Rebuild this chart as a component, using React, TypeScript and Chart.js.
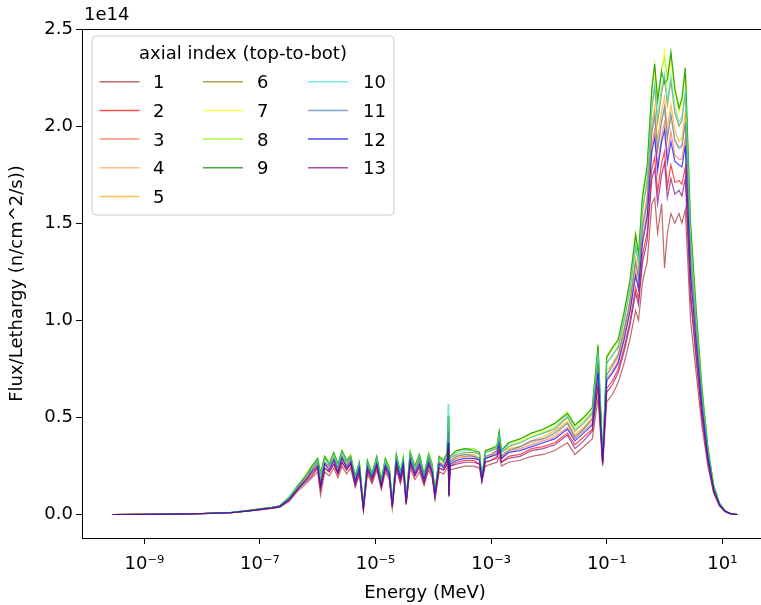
import React, { useEffect, useRef } from 'react';
import { Chart, registerables } from 'chart.js';

Chart.register(...registerables);

// Energy group points (MeV)
const ENERGY_MEV = [
  2.8e-10, 1e-9, 3.2e-9, 1e-8, 3.2e-8, 6.3e-8, 1e-7, 1.6e-7, 2.2e-7, 3.2e-7,
  4.5e-7, 6.3e-7, 7.9e-7, 1.0e-6, 1.12e-6, 1.32e-6, 1.58e-6, 1.9e-6, 2.24e-6, 2.63e-6,
  3.16e-6, 3.72e-6, 4.47e-6, 5.25e-6, 6.17e-6, 7.24e-6, 8.71e-6, 1.05e-5, 1.26e-5, 1.48e-5,
  1.74e-5, 1.95e-5, 2.29e-5, 2.69e-5, 3.02e-5, 3.39e-5, 3.98e-5, 4.79e-5, 5.75e-5, 6.92e-5,
  8.32e-5, 9.55e-5, 1.07e-4, 1.26e-4, 1.51e-4, 1.74e-4, 1.8e-4, 1.86e-4, 1.95e-4, 2.51e-4,
  3.55e-4, 5.01e-4, 6.31e-4, 6.92e-4, 7.94e-4, 1.0e-3, 1.26e-3, 1.38e-3, 1.51e-3, 2.0e-3,
  3.16e-3, 5.01e-3, 7.94e-3, 1.26e-2, 2.09e-2, 2.82e-2, 3.98e-2, 5.62e-2, 7.08e-2, 8.51e-2,
  0.1, 0.126, 0.158, 0.2, 0.251, 0.316, 0.355, 0.417, 0.501, 0.603,
  0.676, 0.759, 0.891, 1.0, 1.12, 1.29, 1.51, 1.78, 2.0, 2.29,
  2.82, 3.55, 4.47, 5.62, 7.08, 8.91, 11.2, 14.1, 18.2,
];

// Flux per lethargy for each axial index, in units of 1e12 n/cm^2/s
const FLUX_AX1 = [
  0.1, 0.2, 0.3, 0.5, 1.0, 1.8, 2.5, 3.2, 3.8, 7,
  12, 16, 19, 22, 10, 22, 20, 24, 19, 25,
  21, 24, 14, 21, 2, 21, 16, 23, 13, 22,
  18, 3, 23, 16, 22, 5, 24, 18, 22, 15,
  23, 19, 8, 22, 21, 24, 30, 9, 23, 24,
  25, 25, 24, 17, 25, 26, 27, 30, 25, 27,
  28, 30, 31, 33, 37, 31, 35, 39, 60, 25,
  58, 62, 68, 78, 90, 105, 100, 120, 130, 160,
  163, 145, 160, 127, 145, 155, 150, 155, 150, 157,
  100, 72, 45, 25, 11, 4.5, 1.5, 0.4, 0.1,
];
const FLUX_AX2 = [
  0.1, 0.2, 0.3, 0.5, 1.1, 1.9, 2.7, 3.4, 4.0, 8,
  13, 18, 21, 24, 14, 24, 22, 26, 21, 27,
  23, 26, 16, 23, 3, 23, 18, 25, 15, 24,
  20, 4, 25, 18, 24, 6, 27, 20, 25, 17,
  26, 21, 9, 24, 23, 26, 36, 10, 25, 27,
  28, 28, 26, 18, 27, 28, 30, 34, 27, 30,
  31, 34, 35, 37, 42, 36, 40, 44, 68, 27,
  65, 69, 75, 86, 99, 117, 111, 134, 145, 178,
  184, 166, 181, 187, 169, 180, 171, 172, 170, 179,
  115, 82, 51, 28, 12, 5, 1.7, 0.4, 0.1,
];
const FLUX_AX3 = [
  0.1, 0.2, 0.3, 0.6, 1.1, 2.0, 2.8, 3.5, 4.2, 8,
  14, 19, 22, 26, 16, 26, 24, 28, 23, 29,
  25, 28, 17, 24, 3.5, 25, 19, 27, 16, 26,
  21, 4.5, 27, 19, 26, 6.5, 29, 22, 27, 18,
  28, 23, 10, 26, 25, 28, 40, 10.5, 27, 29,
  30, 30, 28, 18, 29, 30, 32, 37, 29, 32,
  34, 36, 38, 40, 45, 39, 43, 47, 74, 28,
  70, 74, 79, 92, 105, 125, 118, 143, 155, 190,
  198, 180, 195, 202, 185, 197, 185, 183, 183, 194,
  125, 89, 55, 30, 13, 5.3, 1.8, 0.45, 0.1,
];
const FLUX_AX4 = [
  0.1, 0.2, 0.3, 0.6, 1.1, 2.0, 2.8, 3.6, 4.3, 8,
  14, 19, 23, 26, 17, 27, 24, 29, 23, 30,
  25, 28, 18, 25, 3.8, 25, 20, 27, 16, 26,
  22, 4.8, 28, 20, 27, 6.8, 29, 22, 27, 19,
  28, 23, 10, 27, 25, 29, 42, 11, 27, 29,
  30, 30, 29, 18, 30, 31, 32, 38, 30, 33,
  35, 37, 39, 41, 47, 40, 44, 49, 77, 28,
  72, 76, 81, 94, 108, 129, 121, 147, 160, 196,
  204, 187, 202, 209, 193, 205, 192, 188, 189, 201,
  130, 92, 57, 31, 13, 5.4, 1.8, 0.46, 0.1,
];
const FLUX_AX5 = [
  0.1, 0.2, 0.3, 0.6, 1.1, 2.1, 2.8, 3.6, 4.3, 8,
  14, 19, 23, 27, 18, 27, 25, 29, 24, 30,
  26, 29, 18, 25, 4.0, 26, 20, 28, 16, 27,
  22, 5.0, 28, 20, 27, 7.0, 30, 23, 28, 19,
  29, 24, 11, 27, 26, 29, 44, 11, 28, 30,
  31, 31, 29, 18, 30, 31, 33, 39, 30, 34,
  35, 38, 40, 43, 48, 41, 45, 50, 79, 28,
  74, 78, 83, 96, 110, 132, 124, 151, 164, 201,
  210, 193, 208, 215, 199, 211, 198, 192, 194, 207,
  134, 94, 59, 32, 14, 5.5, 1.8, 0.47, 0.1,
];
const FLUX_AX6 = [
  0.1, 0.2, 0.3, 0.6, 1.2, 2.1, 2.9, 3.7, 4.5, 9,
  14, 20, 24, 28, 20, 29, 26, 31, 25, 32,
  27, 30, 19, 26, 4.5, 27, 21, 29, 17, 28,
  23, 5.5, 30, 21, 29, 7.5, 31, 24, 29, 20,
  30, 25, 11, 29, 27, 31, 46, 11.5, 29, 31,
  32, 32, 31, 19, 32, 33, 34, 41, 32, 35,
  37, 40, 42, 44, 50, 43, 47, 52, 83, 29,
  78, 82, 86, 100, 115, 138, 129, 157, 171, 209,
  220, 202, 217, 225, 211, 223, 207, 200, 203, 217,
  141, 99, 61, 33, 14, 5.7, 1.9, 0.48, 0.1,
];
const FLUX_AX7 = [
  0.1, 0.2, 0.3, 0.6, 1.2, 2.2, 3.0, 3.8, 4.6, 9,
  15, 21, 25, 29, 21, 30, 27, 32, 26, 33,
  28, 31, 20, 27, 4.9, 28, 22, 30, 18, 29,
  24, 5.9, 31, 22, 30, 7.9, 33, 25, 31, 21,
  32, 26, 12, 30, 28, 32, 49, 12, 30, 33,
  34, 34, 32, 19, 33, 34, 36, 42, 33, 37,
  38, 41, 43, 46, 52, 45, 49, 54, 87, 30,
  81, 85, 89, 104, 119, 143, 133, 163, 178, 217,
  229, 212, 227, 240, 221, 234, 217, 207, 212, 226,
  148, 103, 64, 35, 15, 5.9, 2.0, 0.5, 0.1,
];
const FLUX_AX8 = [
  0.1, 0.2, 0.3, 0.6, 1.2, 2.2, 3.0, 3.8, 4.6, 9,
  15, 21, 25, 29, 22, 30, 27, 32, 26, 33,
  28, 31, 20, 27, 5, 28, 22, 30, 18, 29,
  24, 6, 31, 22, 30, 8, 33, 25, 31, 21,
  32, 26, 12, 30, 28, 32, 50, 12, 30, 33,
  34, 34, 32, 19, 33, 34, 36, 43, 33, 37,
  39, 42, 44, 47, 53, 46, 50, 55, 88, 30,
  82, 86, 90, 105, 120, 145, 135, 165, 180, 220,
  232, 215, 230, 235, 225, 238, 220, 210, 215, 230,
  150, 105, 65, 35, 15, 6, 2, 0.5, 0.1,
];
const FLUX_AX9 = [
  0.1, 0.2, 0.3, 0.6, 1.2, 2.2, 3.0, 3.8, 4.6, 9,
  15, 20, 25, 29, 21, 30, 26, 32, 26, 33,
  28, 30, 20, 27, 5, 28, 21, 30, 18, 29,
  24, 6, 31, 22, 29, 8, 32, 25, 31, 21,
  31, 26, 12, 30, 28, 32, 51, 12, 30, 33,
  34, 33, 32, 19, 33, 34, 35, 43, 33, 37,
  39, 42, 44, 47, 52, 46, 50, 55, 87, 30,
  81, 86, 90, 104, 120, 144, 134, 164, 179, 219,
  232, 213, 228, 222, 224, 238, 219, 209, 214, 230,
  150, 104, 64, 35, 15, 6, 2, 0.5, 0.1,
];
const FLUX_AX10 = [
  0.1, 0.2, 0.3, 0.6, 1.2, 2.1, 2.9, 3.7, 4.5, 9,
  15, 20, 24, 28, 20, 29, 26, 31, 25, 32,
  27, 30, 19, 26, 4.6, 27, 21, 29, 17, 28,
  23, 5.6, 30, 21, 29, 7.6, 32, 24, 30, 20,
  31, 25, 11, 29, 27, 31, 57, 11.5, 29, 32,
  33, 33, 31, 19, 32, 33, 35, 41, 32, 36,
  37, 40, 42, 45, 51, 44, 48, 53, 84, 29,
  78, 82, 87, 101, 116, 139, 130, 158, 173, 211,
  222, 205, 220, 227, 213, 226, 210, 202, 205, 219,
  143, 100, 62, 34, 14, 5.8, 1.9, 0.49, 0.1,
];
const FLUX_AX11 = [
  0.1, 0.2, 0.3, 0.6, 1.1, 2.0, 2.8, 3.6, 4.3, 8,
  14, 20, 23, 27, 16, 27, 25, 29, 24, 30,
  25, 29, 18, 25, 3.6, 26, 20, 27, 17, 26,
  22, 4.5, 28, 20, 27, 6.5, 30, 22, 28, 19,
  29, 23, 10, 27, 25, 29, 43, 10.5, 27, 30,
  31, 30, 29, 18, 30, 31, 33, 38, 30, 33,
  35, 38, 39, 42, 47, 40, 44, 49, 78, 28,
  72, 77, 82, 95, 109, 130, 122, 148, 161, 197,
  206, 188, 203, 210, 194, 206, 193, 189, 190, 202,
  131, 93, 58, 31, 13, 5.4, 1.8, 0.46, 0.1,
];
const FLUX_AX12 = [
  0.1, 0.2, 0.3, 0.5, 1.1, 2.0, 2.7, 3.5, 4.2, 8,
  13, 18, 22, 25, 15, 26, 23, 28, 22, 29,
  24, 27, 17, 24, 3.4, 24, 19, 26, 15, 25,
  21, 4.4, 27, 19, 26, 6.4, 28, 21, 26, 18,
  27, 22, 10, 26, 24, 28, 37, 10, 26, 28,
  29, 29, 28, 18, 29, 30, 31, 36, 29, 32,
  33, 35, 37, 39, 44, 38, 42, 46, 73, 27,
  69, 73, 78, 90, 104, 123, 116, 140, 153, 187,
  194, 177, 192, 198, 181, 192, 182, 180, 179, 190,
  123, 87, 54, 30, 13, 5.2, 1.7, 0.45, 0.1,
];
const FLUX_AX13 = [
  0.1, 0.2, 0.3, 0.5, 1.0, 1.9, 2.6, 3.3, 4.0, 7,
  13, 17, 20, 24, 13, 24, 22, 26, 21, 27,
  23, 26, 15, 22, 2.7, 23, 17, 25, 14, 24,
  19, 3.7, 25, 17, 24, 5.7, 26, 20, 24, 16,
  25, 21, 9, 24, 23, 26, 34, 9.7, 25, 26,
  27, 27, 26, 17, 27, 28, 29, 33, 27, 29,
  30, 33, 34, 36, 41, 34, 38, 43, 66, 26,
  63, 67, 73, 84, 97, 114, 108, 130, 141, 173,
  178, 160, 175, 181, 163, 173, 165, 167, 164, 173,
  111, 79, 49, 27, 12, 4.8, 1.6, 0.42, 0.1,
];

const SERIES_LABELS = ['1', '2', '3', '4', '5', '6', '7', '8', '9', '10', '11', '12', '13'];
const SERIES_COLORS = [
  'rgba(165,42,42,0.7)',
  'rgba(255,0,0,0.7)',
  'rgba(255,99,71,0.7)',
  'rgba(244,164,96,0.7)',
  'rgba(255,165,0,0.7)',
  'rgba(128,128,0,0.7)',
  'rgba(255,255,0,0.7)',
  'rgba(124,252,0,0.7)',
  'rgba(0,128,0,0.7)',
  'rgba(64,224,208,0.7)',
  'rgba(70,130,180,0.7)',
  'rgba(0,0,255,0.7)',
  'rgba(128,0,128,0.7)',
];
const X_TICKS = [1e-9, 1e-7, 1e-5, 1e-3, 1e-1, 1e1];
const Y_TICKS = [0, 0.5, 1.0, 1.5, 2.0, 2.5];
const X_TITLE = 'Energy (MeV)';
const Y_TITLE = 'Flux/Lethargy (n/cm^2/s))';
const LEGEND_TITLE = 'axial index (top-to-bot)';
const OFFSET_LABEL = '1e14';
const LEGEND_COLUMNS = [[0, 1, 2, 3, 4], [5, 6, 7, 8], [9, 10, 11, 12]];

const FONT = '"DejaVu Sans", sans-serif';
const FS = 18;

const SUP: Record<string, string> = {
  '-': '\u207B', '0': '\u2070', '1': '\u00B9', '2': '\u00B2', '3': '\u00B3', '4': '\u2074',
  '5': '\u2075', '6': '\u2076', '7': '\u2077', '8': '\u2078', '9': '\u2079',
};
const toSup = (n: number) => String(n).split('').map((c) => SUP[c] ?? c).join('');

export default function App() {
  const ref = useRef<HTMLCanvasElement>(null);

  useEffect(() => {
    const canvas = ref.current;
    if (!canvas) return;
    const series = [
      FLUX_AX1, FLUX_AX2, FLUX_AX3, FLUX_AX4, FLUX_AX5, FLUX_AX6, FLUX_AX7,
      FLUX_AX8, FLUX_AX9, FLUX_AX10, FLUX_AX11, FLUX_AX12, FLUX_AX13,
    ];
    const datasets = series.map((vals, i) => ({
      label: SERIES_LABELS[i],
      data: ENERGY_MEV.map((e, j) => ({ x: e, y: vals[j] / 100 })),
      borderColor: SERIES_COLORS[i],
      backgroundColor: SERIES_COLORS[i],
      borderWidth: 1.2,
      pointRadius: 0,
      tension: 0,
      fill: false,
      order: series.length - 1 - i,
    }));

    const overlay = {
      id: 'overlay',
      afterDraw(chart: any) {
        const { ctx, chartArea } = chart;
        const { left, top, right, bottom } = chartArea;
        ctx.save();
        ctx.strokeStyle = '#000';
        ctx.lineWidth = 1;
        ctx.strokeRect(Math.round(left) + 0.5, Math.round(top) + 0.5, Math.round(right - left), Math.round(bottom - top));

        ctx.fillStyle = '#000';
        ctx.font = `${FS}px ${FONT}`;
        ctx.textAlign = 'left';
        ctx.textBaseline = 'alphabetic';
        ctx.fillText(OFFSET_LABEL, left + 2, top - 9);

        // legend
        const lx = 92, ly = 36, lw = 302, lh = 179, r = 4;
        ctx.beginPath();
        ctx.moveTo(lx + r, ly);
        ctx.lineTo(lx + lw - r, ly);
        ctx.quadraticCurveTo(lx + lw, ly, lx + lw, ly + r);
        ctx.lineTo(lx + lw, ly + lh - r);
        ctx.quadraticCurveTo(lx + lw, ly + lh, lx + lw - r, ly + lh);
        ctx.lineTo(lx + r, ly + lh);
        ctx.quadraticCurveTo(lx, ly + lh, lx, ly + lh - r);
        ctx.lineTo(lx, ly + r);
        ctx.quadraticCurveTo(lx, ly, lx + r, ly);
        ctx.closePath();
        ctx.fillStyle = 'rgba(255,255,255,0.8)';
        ctx.fill();
        ctx.strokeStyle = '#cccccc';
        ctx.lineWidth = 1;
        ctx.stroke();

        ctx.fillStyle = '#000';
        ctx.textAlign = 'center';
        ctx.fillText(LEGEND_TITLE, lx + lw / 2, 59);

        const lineX = [99.5, 203, 308];
        const textX = [153, 257, 363];
        const rowY = [81.7, 110.4, 139.1, 167.8, 196.5];
        ctx.textAlign = 'left';
        LEGEND_COLUMNS.forEach((col, c) => {
          col.forEach((idx, rI) => {
            const y = rowY[rI];
            ctx.strokeStyle = SERIES_COLORS[idx];
            ctx.lineWidth = 1.5;
            ctx.beginPath();
            ctx.moveTo(lineX[c], y);
            ctx.lineTo(lineX[c] + 40, y);
            ctx.stroke();
            ctx.fillStyle = '#000';
            ctx.fillText(SERIES_LABELS[idx], textX[c], y + 6.6);
          });
        });
        ctx.restore();
      },
    };

    const font = { family: FONT, size: FS };
    const chart = new Chart(canvas, {
      type: 'line',
      data: { datasets },
      options: {
        responsive: false,
        animation: false,
        events: [],
        layout: { padding: { left: 0, right: 7, top: 29, bottom: 0 } },
        plugins: { legend: { display: false }, tooltip: { enabled: false } },
        scales: {
          x: {
            type: 'logarithmic',
            min: 8.36e-11,
            max: 61.7,
            afterFit: (s: any) => { s.height = 67; },
            afterBuildTicks: (s: any) => { s.ticks = X_TICKS.map((v) => ({ value: v })); },
            ticks: {
              callback: (v: any) => '10' + toSup(Math.round(Math.log10(Number(v)))),
              font,
              color: '#000',
              padding: 10,
              maxRotation: 0,
              autoSkip: false,
            },
            grid: { drawOnChartArea: false, drawTicks: true, tickLength: 6, color: '#000', lineWidth: 1 },
            border: { display: false },
            title: { display: true, text: X_TITLE, font, color: '#000', padding: { top: 0, bottom: 1 } },
          },
          y: {
            type: 'linear',
            min: -0.12,
            max: 2.5,
            afterFit: (s: any) => { s.width = 82; },
            afterBuildTicks: (s: any) => { s.ticks = Y_TICKS.map((v) => ({ value: v })); },
            ticks: {
              callback: (v: any) => Number(v).toFixed(1),
              font,
              color: '#000',
              padding: 3,
            },
            grid: { drawOnChartArea: false, drawTicks: true, tickLength: 6, color: '#000', lineWidth: 1 },
            border: { display: false },
            title: { display: true, text: Y_TITLE, font, color: '#000', padding: { top: 7, bottom: 0 } },
          },
        },
      },
      plugins: [overlay],
    } as any);
    return () => chart.destroy();
  }, []);

  return (
    <div style={{ position: 'absolute', left: 0, top: 0, width: 761, height: 605, overflow: 'hidden', background: '#fff' }}>
      <canvas ref={ref} width={775} height={605} style={{ display: 'block' }} />
    </div>
  );
}
